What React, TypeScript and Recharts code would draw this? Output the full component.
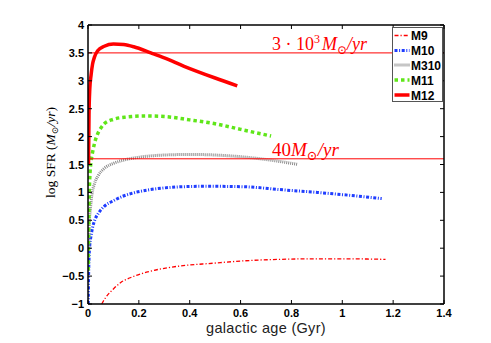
import React from 'react';
import { LineChart, Line, XAxis, YAxis, ReferenceLine } from 'recharts';

// ---- data ----
const xTicks = [0, 0.2, 0.4, 0.6, 0.8, 1, 1.2, 1.4];
const yTicks = [-1, -0.5, 0, 0.5, 1, 1.5, 2, 2.5, 3, 3.5, 4];

const m9X = [0.054, 0.07, 0.1, 0.13, 0.166, 0.23, 0.3, 0.36, 0.49, 0.6, 0.755, 0.9, 1.0, 1.17];
const m9Y = [-1, -0.88, -0.73, -0.61, -0.53, -0.43, -0.36, -0.32, -0.27, -0.23, -0.2, -0.19, -0.19, -0.2];

const m10X = [0.001, 0.002, 0.004, 0.007, 0.012, 0.018, 0.028, 0.04, 0.064, 0.1, 0.136, 0.17, 0.23, 0.3, 0.36, 0.47, 0.62, 0.755, 0.9, 1.0, 1.155];
const m10Y = [-1, -0.6, -0.2, 0.05, 0.22, 0.37, 0.52, 0.62, 0.75, 0.85, 0.93, 0.98, 1.04, 1.08, 1.1, 1.11, 1.1, 1.05, 1.0, 0.96, 0.89];

const m310X = [0.003, 0.005, 0.009, 0.015, 0.025, 0.04, 0.064, 0.1, 0.15, 0.2, 0.3, 0.4, 0.5, 0.6, 0.7, 0.826];
const m310Y = [0.0, 0.45, 0.68, 0.95, 1.15, 1.3, 1.43, 1.52, 1.59, 1.63, 1.67, 1.68, 1.67, 1.64, 1.59, 1.5];

const m11X = [0.001, 0.003, 0.005, 0.008, 0.012, 0.018, 0.028, 0.038, 0.05, 0.064, 0.1, 0.15, 0.23, 0.3, 0.4, 0.5, 0.6, 0.72];
const m11Y = [-0.4, 0.5, 1.0, 1.35, 1.55, 1.72, 1.92, 2.05, 2.15, 2.23, 2.31, 2.35, 2.37, 2.36, 2.3, 2.23, 2.13, 2.01];

const m12X = [0.002, 0.004, 0.007, 0.012, 0.018, 0.025, 0.038, 0.064, 0.1, 0.14, 0.18, 0.247, 0.3, 0.378, 0.5, 0.587];
const m12Y = [1.5, 2.4, 2.85, 3.1, 3.3, 3.42, 3.54, 3.62, 3.66, 3.65, 3.61, 3.5, 3.41, 3.26, 3.05, 2.91];

const limitHigh = 3.5; // log(3e3)
const limitLow = 1.602; // log(40)

const zip = (xs: number[], ys: number[]) => xs.map((x, i) => ({ x, y: ys[i] }));

const series = [
  { name: 'M9', data: zip(m9X, m9Y), stroke: '#ff0000', width: 1.3, dash: '4 2 1.2 2' },
  { name: 'M10', data: zip(m10X, m10Y), stroke: '#1f3dff', width: 3, dash: '3 1.6 1 1.6' },
  { name: 'M310', data: zip(m310X, m310Y), stroke: '#8c8c8c', width: 3, dash: '1 1' },
  { name: 'M11', data: zip(m11X, m11Y), stroke: '#5fe619', width: 3.5, dash: '3.5 3' },
  { name: 'M12', data: zip(m12X, m12Y), stroke: '#ff0000', width: 3.5, dash: undefined as string | undefined },
];

const fontSans = "'Liberation Sans', Arial, Helvetica, sans-serif";
const fontSerif = "'Liberation Serif', 'Times New Roman', 'DejaVu Serif', serif";

const fmtX = (v: number) => String(v);
const fmtY = (v: number) => (v < 0 ? '\u2212' + String(Math.abs(v)) : String(v));

function BottomTick(props: any) {
  const { x, y, payload } = props;
  return (
    <g>
      <line x1={x} y1={y} x2={x} y2={y - 4} stroke="#000" strokeWidth={1} />
      <text x={x} y={y + 13.2} textAnchor="middle" fontFamily={fontSans} fontWeight="bold" fontSize={11} fill="#000">
        {fmtX(payload.value)}
      </text>
    </g>
  );
}
function LeftTick(props: any) {
  const { x, y, payload } = props;
  return (
    <g>
      <line x1={x} y1={y} x2={x + 4} y2={y} stroke="#000" strokeWidth={1} />
      <text x={x - 4} y={y + 4} textAnchor="end" fontFamily={fontSans} fontWeight="bold" fontSize={11} fill="#000">
        {fmtY(payload.value)}
      </text>
    </g>
  );
}
function TopTick(props: any) {
  const { x, y } = props;
  return <line x1={x} y1={y} x2={x} y2={y + 4} stroke="#000" strokeWidth={1} />;
}
function RightTick(props: any) {
  const { x, y } = props;
  return <line x1={x} y1={y} x2={x - 4} y2={y} stroke="#000" strokeWidth={1} />;
}

const yLabel = (p: any) => {
  const vb = p.viewBox || { x: 48, y: 25, width: 40, height: 279 };
  const cx = vb.x + 7;
  const cy = vb.y + vb.height / 2 - 12;
  return (
    <text transform={`translate(${cx},${cy}) rotate(-90)`} textAnchor="middle" fontFamily={fontSerif} fontSize={13.5} fill="#000">
      <tspan>log SFR (</tspan>
      <tspan fontStyle="italic">M</tspan>
      <tspan fontSize={9} dy={3}>⊙</tspan>
      <tspan dy={-3} fontStyle="italic">/yr</tspan>
      <tspan>)</tspan>
    </text>
  );
};

const xLabel = (p: any) => {
  const vb = p.viewBox || { x: 88, y: 304, width: 356, height: 30 };
  return (
    <text x={vb.x + vb.width / 2} y={vb.y + 29} textAnchor="middle" fontFamily={fontSans} fontSize={14.5} letterSpacing={0.3} fill="#222">
      galactic age (Gyr)
    </text>
  );
};

const highLabel = (p: any) => {
  const vb = p.viewBox;
  return (
    <text x={vb.x + 184} y={vb.y - 2.5} fill="#ff0000" fontFamily={fontSerif} fontSize={18}>
      <tspan>3 · 10</tspan>
      <tspan dy={-7} fontSize={12}>3</tspan>
      <tspan dy={7} dx={2} fontStyle="italic">M</tspan>
      <tspan dy={4} fontSize={12}>⊙</tspan>
      <tspan dy={-4} fontStyle="italic">/yr</tspan>
    </text>
  );
};

const lowLabel = (p: any) => {
  const vb = p.viewBox;
  return (
    <text x={vb.x + 184} y={vb.y - 3} fill="#ff0000" fontFamily={fontSerif} fontSize={19}>
      <tspan>40</tspan>
      <tspan fontStyle="italic">M</tspan>
      <tspan dy={4} fontSize={13}>⊙</tspan>
      <tspan dy={-4} fontStyle="italic">/yr</tspan>
    </text>
  );
};

function LegendBox() {
  const rows = [8.5, 23.5, 38, 53, 68];
  return (
    <div
      style={{
        position: 'absolute',
        left: 392,
        top: 27,
        width: 51,
        height: 75,
        boxSizing: 'border-box',
        border: '1px solid #555',
        background: '#fff',
      }}
    >
      <svg width={49} height={73} style={{ display: 'block' }}>
        {series.map((s, i) => (
          <g key={s.name}>
            <line
              x1={1.5}
              x2={16.5}
              y1={rows[i] - 1}
              y2={rows[i] - 1}
              stroke={s.stroke}
              strokeWidth={s.width}
              strokeDasharray={s.dash}
            />
            <text x={18} y={rows[i] + 3.5} fontFamily={fontSans} fontWeight="bold" fontSize={12} fill="#000">
              {s.name}
            </text>
          </g>
        ))}
      </svg>
    </div>
  );
}

export default function App() {
  return (
    <div style={{ position: 'absolute', left: 0, top: 0, width: 491, height: 343, background: '#fff' }}>
      <LineChart width={491} height={343} margin={{ top: 20, right: 42, bottom: 9, left: 48 }}>
        <XAxis
          xAxisId="b"
          dataKey="x"
          type="number"
          domain={[0, 1.4]}
          ticks={xTicks}
          interval={0}
          allowDataOverflow
          height={30}
          tickSize={0}
          tickMargin={0}
          tickLine={false}
          tick={<BottomTick />}
          axisLine={{ stroke: '#000', strokeWidth: 1.5 }}
          label={xLabel}
        />
        <XAxis
          xAxisId="t"
          orientation="top"
          dataKey="x"
          type="number"
          domain={[0, 1.4]}
          ticks={xTicks}
          interval={0}
          allowDataOverflow
          height={5}
          tickSize={0}
          tickMargin={0}
          tickLine={false}
          tick={<TopTick />}
          axisLine={{ stroke: '#000', strokeWidth: 1.5 }}
        />
        <YAxis
          yAxisId="l"
          type="number"
          domain={[-1, 4]}
          ticks={yTicks}
          interval={0}
          allowDataOverflow
          width={40}
          tickSize={0}
          tickMargin={0}
          tickLine={false}
          tick={<LeftTick />}
          axisLine={{ stroke: '#000', strokeWidth: 1.5 }}
          label={yLabel}
        />
        <YAxis
          yAxisId="r"
          orientation="right"
          type="number"
          domain={[-1, 4]}
          ticks={yTicks}
          interval={0}
          allowDataOverflow
          width={5}
          tickSize={0}
          tickMargin={0}
          tickLine={false}
          tick={<RightTick />}
          axisLine={{ stroke: '#000', strokeWidth: 1.5 }}
        />
        {series.map((s) => (
          <Line
            key={s.name}
            xAxisId="b"
            yAxisId="l"
            data={s.data}
            dataKey="y"
            name={s.name}
            type="monotone"
            stroke={s.stroke}
            strokeWidth={s.width}
            strokeDasharray={s.dash}
            dot={false}
            activeDot={false}
            isAnimationActive={false}
          />
        ))}
        <ReferenceLine xAxisId="b" yAxisId="l" y={limitHigh} stroke="#ff0000" strokeWidth={1} label={highLabel} />
        <ReferenceLine xAxisId="b" yAxisId="l" y={limitLow} stroke="#ff0000" strokeWidth={1} label={lowLabel} />
      </LineChart>
      <LegendBox />
    </div>
  );
}
